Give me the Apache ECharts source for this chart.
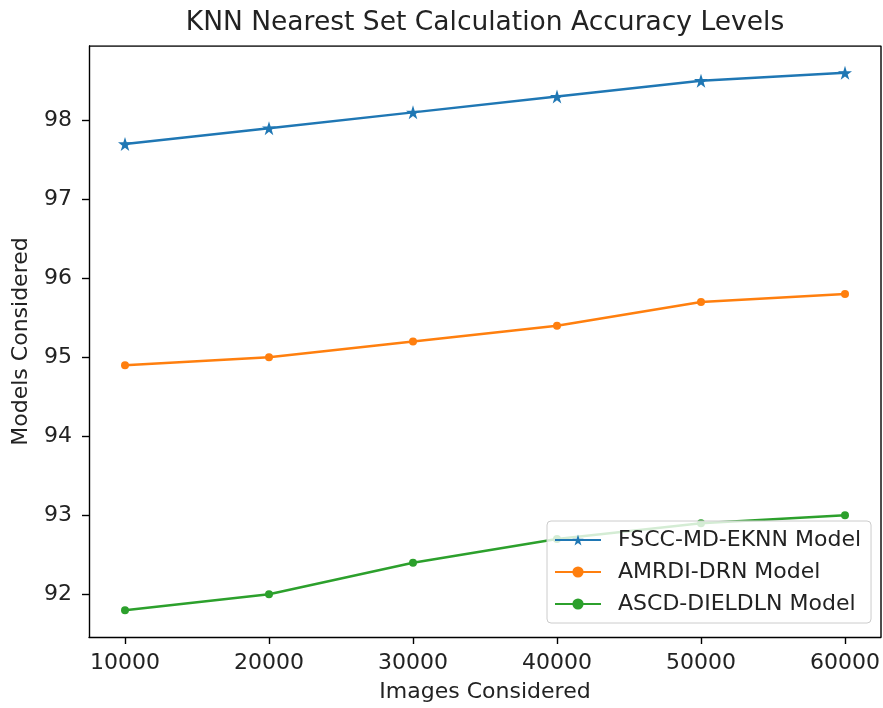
<!DOCTYPE html>
<html>
<head>
<meta charset="utf-8">
<script src="https://cdn.jsdelivr.net/npm/echarts@6/dist/echarts.min.js"></script>
<style>
  html, body { margin: 0; padding: 0; background: #fff; }
  #chart { width: 883px; height: 708px; }
</style>
</head>
<body>
<div id="chart"></div>
<script>
// Number of images processed (x axis)
const images = [10000, 20000, 30000, 40000, 50000, 60000];
const xTicks = [10000, 20000, 30000, 40000, 50000, 60000];
const yTicks = [92, 93, 94, 95, 96, 97, 98];

// Accuracy (%) per model
const fsccMdEknn = [97.7, 97.9, 98.1, 98.3, 98.5, 98.6];
const amrdiDrn = [94.9, 95.0, 95.2, 95.4, 95.7, 95.8];
const ascdDieldln = [91.8, 92.0, 92.4, 92.7, 92.9, 93.0];

const seriesNames = ['FSCC-MD-EKNN Model', 'AMRDI-DRN Model', 'ASCD-DIELDLN Model'];
const colors = ['#1f77b4', '#ff7f0e', '#2ca02c'];

const FONT = 'DejaVu Sans';
const TEXT = '#222';
const FS = 22;

const pair = (xs, ys) => xs.map((x, i) => [x, ys[i]]);

const chart = echarts.init(document.getElementById('chart'), null, { renderer: 'canvas' });

const lineSeries = (name, data, color, symbol, size) => ({
  name,
  type: 'line',
  data: pair(images, data),
  symbol,
  symbolSize: size,
  showSymbol: true,
  lineStyle: { color, width: 2.5 },
  itemStyle: { color },
  emphasis: { disabled: true },
  animation: false
});

const STAR = 'path://M0,-1 L0.2245,-0.309 L0.9511,-0.309 L0.3633,0.118 L0.5878,0.809 L0,0.382 L-0.5878,0.809 L-0.3633,0.118 L-0.9511,-0.309 L-0.2245,-0.309 Z';

chart.setOption({
  backgroundColor: '#fff',
  animation: false,
  textStyle: { fontFamily: FONT, color: TEXT },
  graphic: [{
    type: 'text',
    x: 485,
    y: 23,
    style: {
      text: 'KNN Nearest Set Calculation Accuracy Levels',
      fontFamily: FONT,
      fontSize: 26.5,
      fill: TEXT,
      textAlign: 'center',
      textVerticalAlign: 'middle'
    }
  }],
  grid: { left: 89, right: 2, top: 46, bottom: 69, containLabel: false },
  xAxis: {
    type: 'value',
    min: 7500,
    max: 62500,
    name: 'Images Considered',
    nameLocation: 'middle',
    nameGap: 44,
    nameTextStyle: { fontFamily: FONT, fontSize: FS, color: TEXT },
    axisLine: { show: true, onZero: false, lineStyle: { color: '#000', width: 1.4 } },
    axisTick: { show: true, inside: false, length: 7, customValues: xTicks, lineStyle: { color: '#000', width: 1.4 } },
    axisLabel: { customValues: xTicks, formatter: v => String(v), fontFamily: FONT, fontSize: FS, color: TEXT, margin: 15 },
    splitLine: { show: false }
  },
  yAxis: {
    type: 'value',
    min: 91.46,
    max: 98.94,
    name: 'Models Considered',
    nameLocation: 'middle',
    nameGap: 57,
    nameRotate: 90,
    nameTextStyle: { fontFamily: FONT, fontSize: FS, color: TEXT },
    axisLine: { show: true, onZero: false, lineStyle: { color: '#000', width: 1.4 } },
    axisTick: { show: true, inside: false, length: 7, customValues: yTicks, lineStyle: { color: '#000', width: 1.4 } },
    axisLabel: { customValues: yTicks, formatter: v => String(v), fontFamily: FONT, fontSize: FS, color: TEXT, margin: 17 },
    splitLine: { show: false }
  },
  legend: {
    data: seriesNames,
    orient: 'vertical',
    left: 547,
    top: 521,
    itemWidth: 46,
    itemHeight: 14,
    itemGap: 10,
    padding: [8, 10, 8, 7],
    backgroundColor: 'rgba(255,255,255,0.8)',
    borderColor: '#cccccc',
    borderWidth: 1,
    borderRadius: 4,
    selectedMode: false,
    textStyle: { fontFamily: FONT, fontSize: FS, color: TEXT, lineHeight: 22, padding: [0, 0, 0, 12] }
  },
  series: [
    lineSeries(seriesNames[0], fsccMdEknn, colors[0], STAR, 14),
    lineSeries(seriesNames[1], amrdiDrn, colors[1], 'circle', 8),
    lineSeries(seriesNames[2], ascdDieldln, colors[2], 'circle', 8),
    // Top and right edges of the plot frame
    {
      type: 'line',
      data: [[7500, 98.94], [62500, 98.94], [62500, 91.46]],
      symbol: 'none',
      silent: true,
      lineStyle: { color: '#000', width: 1.4 },
      animation: false,
      z: 3
    }
  ]
});
</script>
</body>
</html>
